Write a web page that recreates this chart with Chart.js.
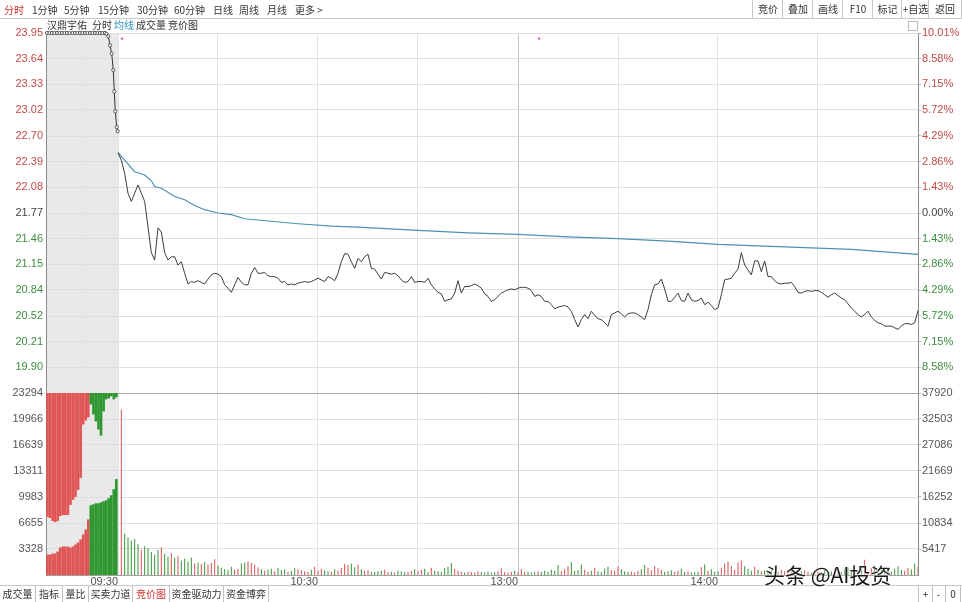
<!DOCTYPE html>
<html>
<head>
<meta charset="utf-8">
<script src="https://cdn.jsdelivr.net/npm/chart.js@4.4.0/dist/chart.umd.min.js"></script>
<style>
  body { margin: 0; background: #fff; }
  #wrap { position: relative; width: 962px; height: 602px; overflow: hidden; font-family: "Noto Sans CJK SC", "Liberation Sans", sans-serif; }
  #chart { position: absolute; left: 0; top: 0; }
  .t { position: absolute; font-size: 10px; line-height: 12px; color: #333; white-space: nowrap; }
  #topbar { position: absolute; left: 0; top: 0; width: 962px; height: 18px; border-bottom: 1px solid #c8c8c8; }
  .btn { position: absolute; top: 0; height: 18px; border-left: 1px solid #c8c8c8; font-size: 10px; line-height: 18px; text-align: center; color: #333; }
  #tabs { position: absolute; left: 0; top: 585px; width: 962px; height: 16px; border-top: 1px solid #c8c8c8; border-bottom: 1px solid #c8c8c8; }
  .tab { position: absolute; top: 0; height: 16px; border-right: 1px solid #c0c0c0; font-size: 10px; line-height: 16px; text-align: center; color: #333; }
  .mark { position: absolute; font-size: 9px; color: #d040c8; }
  #wm { position: absolute; left: 764px; top: 559px; font-size: 21px; color: #1a1a1a; text-shadow: 0 0 2px #fff, 0 0 2px #fff; }
</style>
</head>
<body>
<div id="wrap">
  <canvas id="chart" width="962" height="602"></canvas>

  <div id="topbar">
    <span class="t" style="left:4px;top:4px;color:#d03030">分时</span>
    <span class="t" style="left:32px;top:4px">1分钟</span>
    <span class="t" style="left:64px;top:4px">5分钟</span>
    <span class="t" style="left:98px;top:4px">15分钟</span>
    <span class="t" style="left:137px;top:4px">30分钟</span>
    <span class="t" style="left:174px;top:4px">60分钟</span>
    <span class="t" style="left:213px;top:4px">日线</span>
    <span class="t" style="left:239px;top:4px">周线</span>
    <span class="t" style="left:267px;top:4px">月线</span>
    <span class="t" style="left:295px;top:4px">更多 &gt;</span>
    <div class="btn" style="left:752px;width:30px">竞价</div>
    <div class="btn" style="left:782px;width:30px">叠加</div>
    <div class="btn" style="left:812px;width:30px">画线</div>
    <div class="btn" style="left:842px;width:30px">F10</div>
    <div class="btn" style="left:872px;width:29px">标记</div>
    <div class="btn" style="left:901px;width:27px">+自选</div>
    <div class="btn" style="left:928px;width:32px;border-right:1px solid #c8c8c8">返回</div>
  </div>

  <span class="t" style="left:47px;top:19px">汉鼎宇佑</span>
  <span class="t" style="left:92px;top:19px">分时</span>
  <span class="t" style="left:114px;top:19px;color:#2f8fc0">均线</span>
  <span class="t" style="left:136px;top:19px">成交量</span>
  <span class="t" style="left:168px;top:19px">竞价图</span>
  <div style="position:absolute;left:908px;top:21px;width:8px;height:8px;border:1px solid #bbb"></div>
  <span class="mark" style="left:120px;top:34px">*</span>
  <span class="mark" style="left:537px;top:34px">*</span>

  <div id="tabs">
    <div class="tab" style="left:0;width:35px">成交量</div>
    <div class="tab" style="left:36px;width:26px">指标</div>
    <div class="tab" style="left:63px;width:25px">量比</div>
    <div class="tab" style="left:89px;width:43px">买卖力道</div>
    <div class="tab" style="left:133px;width:36px;color:#d03030">竞价图</div>
    <div class="tab" style="left:170px;width:53px">资金驱动力</div>
    <div class="tab" style="left:224px;width:44px">资金博弈</div>
    <div class="tab" style="left:918px;width:13px;border-left:1px solid #c0c0c0">+</div>
    <div class="tab" style="left:932px;width:13px">-</div>
    <div class="tab" style="left:946px;width:14px">0</div>
  </div>

  <div id="wm">头条 @AI投资</div>
</div>

<script>
// 昨收与坐标轴刻度
const prevClose = 21.77;
const priceMax = 23.95;
const priceMin = 19.59;
const priceTicks = [23.95, 23.64, 23.33, 23.02, 22.70, 22.39, 22.08, 21.77, 21.46, 21.15, 20.84, 20.52, 20.21, 19.90];
const pctTicks = [10.01, 8.58, 7.15, 5.72, 4.29, 2.86, 1.43, 0, -1.43, -2.86, -4.29, -5.72, -7.15, -8.58];
const pctLabels = ['10.01%', '8.58%', '7.15%', '5.72%', '4.29%', '2.86%', '1.43%', '0.00%', '1.43%', '2.86%', '4.29%', '5.72%', '7.15%', '8.58%'];
const volLeftTicks = [23294, 19966, 16639, 13311, 9983, 6655, 3328];
const volRightTicks = [37920, 32503, 27086, 21669, 16252, 10834, 5417];

// x 轴单位: 分钟 (09:30 = 0), 竞价区在负值
const auctionStart = -21.6;
const timeTicks = [-10.8, 0, 30, 60, 90, 120, 150, 180, 210];
const timeLabels = ['', '09:30', '', '10:30', '', '13:00', '', '14:00', ''];

// 集合竞价 价格
const auctionPriceTime = [-21.30, -20.55, -19.80, -19.05, -18.30, -17.55, -16.80, -16.05, -15.30, -14.55, -13.65, -12.90, -12.15, -11.40, -10.65, -9.90, -9.15, -8.40, -7.65, -6.90, -6.15, -5.40, -4.65, -3.90, -3.45, -2.91, -2.40, -1.89, -1.41, -1.11, -0.81, -0.39, -0.09];
const auctionPrice = [23.95, 23.95, 23.95, 23.95, 23.95, 23.95, 23.95, 23.95, 23.95, 23.95, 23.95, 23.95, 23.95, 23.95, 23.95, 23.95, 23.95, 23.95, 23.95, 23.95, 23.95, 23.95, 23.95, 23.95, 23.94, 23.91, 23.80, 23.70, 23.50, 23.24, 23.00, 22.81, 22.76];

// 集合竞价 量 (未匹配量从上往下, 匹配量从下往上)
const auctionBarTime = [-21.15, -20.39, -19.62, -18.86, -18.09, -17.33, -16.56, -15.80, -15.03, -14.27, -13.50, -12.74, -11.97, -11.21, -10.44, -9.68, -8.91, -8.15, -7.38, -6.62, -5.85, -5.09, -4.32, -3.56, -2.79, -2.03, -1.26, -0.50];
const auctionUnmatched = [7465, 7336, 6950, 6821, 6950, 7593, 7722, 7722, 7722, 9009, 9653, 10039, 10940, 12484, 19305, 19820, 20206, 21879, 20592, 19691, 18662, 17889, 20978, 22523, 22651, 22909, 22523, 22780];
const auctionMatched = [2574, 2574, 2703, 2703, 2960, 3475, 3604, 3604, 3604, 3475, 3604, 3861, 4118, 4505, 5148, 5792, 7079, 8880, 9009, 9138, 9138, 9266, 9395, 9524, 9781, 10167, 10940, 12227];
const auctionSide = 'rrrrrrrrrrrrrrrrrgggggggggggg';

// 分时价格 (每分钟)
const price = [
  22.50, 22.41, 22.25, 22.01, 21.91, 22.01, 22.11, 22.01, 21.91, 21.60,
  21.29, 21.20, 21.59, 21.54, 21.29, 21.20, 21.24, 21.24, 21.14, 21.18,
  21.04, 20.91, 20.94, 20.93, 20.95, 20.93, 20.91, 20.97, 21.02, 21.04,
  21.03, 21.00, 20.90, 20.86, 20.81, 20.90, 20.99, 20.93, 20.90, 20.90,
  21.04, 21.11, 21.04, 21.04, 21.05, 21.01, 21.00, 21.00, 20.98, 20.93,
  20.94, 20.90, 20.91, 20.90, 20.92, 20.93, 20.94, 20.93, 20.94, 20.96,
  20.98, 20.96, 20.94, 21.00, 20.98, 20.95, 21.04, 21.18, 21.28, 21.27,
  21.18, 21.10, 21.22, 21.18, 21.24, 21.27, 21.10, 21.09, 21.03, 20.97,
  21.05, 21.04, 21.03, 21.04, 21.01, 20.96, 20.93, 20.94, 21.00, 20.93,
  20.94, 20.94, 20.93, 20.98, 20.90, 20.85, 20.81, 20.79, 20.70, 20.72,
  20.73, 20.80, 20.95, 20.80, 20.88, 20.88, 20.89, 20.91, 20.89, 20.86,
  20.79, 20.76, 20.70, 20.72, 20.76, 20.80, 20.82, 20.84, 20.85, 20.84,
  20.86, 20.87, 20.87, 20.86, 20.83, 20.76, 20.78, 20.76, 20.70, 20.70,
  20.66, 20.61, 20.63, 20.64, 20.65, 20.63, 20.58, 20.48, 20.39, 20.48,
  20.54, 20.49, 20.58, 20.53, 20.49, 20.48, 20.44, 20.40, 20.54, 20.56,
  20.58, 20.55, 20.51, 20.55, 20.56, 20.56, 20.54, 20.51, 20.48, 20.60,
  20.78, 20.90, 20.91, 20.97, 20.85, 20.70, 20.70, 20.75, 20.80, 20.71,
  20.70, 20.80, 20.72, 20.70, 20.71, 20.74, 20.66, 20.69, 20.65, 20.60,
  20.62, 20.78, 20.96, 20.97, 20.98, 21.04, 21.09, 21.29, 21.14, 21.08,
  21.02, 21.19, 21.19, 21.06, 21.19, 21.00, 21.00, 20.95, 20.92, 20.91,
  20.92, 20.92, 20.93, 20.88, 20.81, 20.80, 20.82, 20.83, 20.82, 20.83,
  20.83, 20.81, 20.78, 20.75, 20.78, 20.80, 20.77, 20.74, 20.72, 20.67,
  20.62, 20.58, 20.54, 20.51, 20.54, 20.58, 20.51, 20.47, 20.44, 20.43,
  20.40, 20.40, 20.40, 20.38, 20.36, 20.40, 20.43, 20.43, 20.42, 20.44,
  20.59
];

// 均价线
const avgTime = [0, 2, 5, 8, 10, 11, 13, 17, 20, 23, 26, 30, 34, 38, 46, 54, 64, 72, 90, 105, 120, 135, 150, 165, 180, 200, 220, 240];
const avgPrice = [22.50, 22.41, 22.27, 22.23, 22.16, 22.09, 22.07, 21.97, 21.93, 21.86, 21.81, 21.77, 21.75, 21.70, 21.67, 21.64, 21.61, 21.60, 21.56, 21.53, 21.51, 21.48, 21.46, 21.43, 21.39, 21.36, 21.33, 21.27];

// 分时成交量 (每分钟)
const volume = [
  34500, 8600, 7800, 7200, 7500, 6400, 5200, 6000, 5600, 4800,
  4200, 5200, 5800, 4400, 3800, 4600, 3600, 3900, 3000, 3400,
  2800, 3600, 2400, 2600, 2300, 2700, 2200, 2500, 3300, 2000,
  1500, 1200, 1000, 1700, 1100, 1300, 2400, 2600, 2800, 2500,
  2200, 1600, 1200, 900, 1100, 1300, 800, 1500, 1000, 1200,
  700, 900, 1400, 1200, 1000, 800, 600, 1100, 1700, 900,
  1300, 1000, 800, 700, 1200, 900, 1500, 2300, 2100, 2400,
  1600, 2200, 1200, 900, 1000, 700, 600, 800, 900, 1100,
  600, 700, 500, 900, 800, 600, 700, 900, 1200, 800,
  1100, 1300, 600, 1500, 900, 800, 700, 1400, 1700, 2500,
  1300, 900, 600, 500, 700, 600, 500, 800, 600, 500,
  700, 500, 600, 800, 1400, 600, 500, 700, 900, 600,
  1200, 700, 600, 500, 700, 800, 600, 900, 700, 1100,
  900, 2100, 800, 1200, 1800, 2700, 900, 1000, 2200, 1100,
  700, 900, 1500, 800, 600, 1300, 1700, 1000, 900, 1800,
  1200, 800, 600, 700, 500, 900, 1200, 2100, 1500, 1000,
  1900, 1400, 1100, 700, 800, 1000, 600, 900, 1300, 700,
  800, 500, 600, 700, 1600, 2200, 900, 1200, 700, 800,
  1500, 2400, 2800, 1900, 1100, 2600, 3000, 1800, 1300, 900,
  1700, 1100, 800, 1000, 700, 900, 600, 700, 1100, 800,
  900, 1200, 700, 600, 800, 1000, 700, 500, 900, 800,
  600, 1100, 800, 700, 1300, 900, 600, 1200, 1500, 1000,
  800, 900, 1600, 3200, 700, 1400, 2000, 900, 1200, 1500,
  1000, 700, 1300, 1800, 1100, 900, 1500, 1200, 2400, 1700
];
const volSide =
  'rgggggrggg' + 'ggrggrgrgg' + 'ggrgrgrrrg' + 'ggggrrggrr' + 'rrgrggrggg' + 'rggrrrrgrr' +
  'rggrgrrrrg' + 'grgrrggggr' + 'rgrgggrrgr' + 'rggrgggggg' + 'rrrgrrrrgg' + 'gggrrrrrgr' +
  'rrgggrgggg' + 'ggrrrggggr' + 'rgrggggrrr' + 'gggrrrggrr' + 'rrrgggrrgg' + 'rgggrgrggg' +
  'rrrrrrrggg' + 'rgrgggggrr' + 'rrgggrrgrr' + 'ggggrrgggg' + 'gggrrrgggg' + 'gggggrrggr';

const RED = '#c44a48', GREEN = '#3d8c3d', GREY = '#444';
const font = { family: '"Liberation Sans", Arial, sans-serif', size: 11 };

// 竞价区灰色背景
const auctionShade = {
  id: 'auctionShade',
  beforeDraw(chart) {
    const { ctx, chartArea, scales } = chart;
    const x1 = scales.x.getPixelForValue(0);
    ctx.save();
    ctx.fillStyle = '#e9e9e9';
    ctx.fillRect(chartArea.left, chartArea.top, x1 - chartArea.left, chartArea.bottom - chartArea.top);
    ctx.restore();
  }
};

const ctx = document.getElementById('chart');
new Chart(ctx, {
  type: 'bar',
  data: {
    datasets: [
      {
        type: 'line',
        data: auctionPriceTime.map((t, i) => ({ x: t, y: auctionPrice[i] })),
        xAxisID: 'x', yAxisID: 'yPrice',
        borderColor: '#333', borderWidth: 1,
        pointRadius: 1.6, pointBorderWidth: 0.8, pointBorderColor: '#333', pointBackgroundColor: '#fff',
        clip: false
      },
      {
        type: 'line',
        data: price.map((p, i) => ({ x: i, y: p })),
        xAxisID: 'x', yAxisID: 'yPrice',
        borderColor: '#3c3c3c', borderWidth: 1, pointRadius: 0, clip: false
      },
      {
        type: 'line',
        data: avgTime.map((t, i) => ({ x: t, y: avgPrice[i] })),
        xAxisID: 'x', yAxisID: 'yPrice',
        borderColor: '#4a93b4', borderWidth: 1.2, pointRadius: 0, clip: false
      },
      {
        data: auctionBarTime.map((t, i) => ({ x: t, y: [auctionUnmatched[i], volLeftTicks[0]] })),
        xAxisID: 'x', yAxisID: 'yVol',
        backgroundColor: auctionBarTime.map((t, i) => auctionSide[i] === 'r' ? '#e05656' : '#2f972f'),
        barThickness: 2, grouped: false
      },
      {
        data: auctionBarTime.map((t, i) => ({ x: t, y: [0, auctionMatched[i]] })),
        xAxisID: 'x', yAxisID: 'yVol',
        backgroundColor: auctionBarTime.map((t, i) => auctionSide[i] === 'r' ? '#e05656' : '#2f972f'),
        barThickness: 2, grouped: false
      },
      {
        data: volume.map((v, i) => ({ x: i + 1, y: v })),
        xAxisID: 'x', yAxisID: 'yVolR',
        backgroundColor: volume.map((v, i) => volSide[i] === 'r' ? '#d85050' : '#3a923a'),
        barThickness: 1, inflateAmount: 0, grouped: false
      }
    ]
  },
  options: {
    responsive: false,
    animation: false,
    layout: { padding: { top: 33, bottom: 12, left: 0, right: 0 } },
    plugins: { legend: { display: false }, tooltip: { enabled: false } },
    scales: {
      x: {
        type: 'linear', min: auctionStart, max: 240, offset: false,
        afterBuildTicks: s => { s.ticks = timeTicks.map(v => ({ value: v })); },
        afterFit: s => { s.height = 15; },
        grid: { offset: false, drawTicks: false, color: c => (c.tick && c.tick.value === 120) ? '#c6c6c6' : '#e3e3e3' },
        border: { color: '#a0a0a0' },
        ticks: { autoSkip: false, maxRotation: 0, align: 'end', padding: 0, color: '#555', font,
                 callback: (v, i) => timeLabels[i] }
      },
      yVol: {
        type: 'linear', position: 'left', stack: 'left', stackWeight: 182,
        min: 0, max: volLeftTicks[0],
        afterBuildTicks: s => { s.ticks = volLeftTicks.map(v => ({ value: v })); },
        afterFit: s => { s.width = 46; },
        grid: { drawTicks: false, color: c => (c.tick && c.tick.value === volLeftTicks[0]) ? '#a8a8a8' : '#dedede' },
        border: { color: '#8a8a8a' },
        ticks: { autoSkip: false, padding: 3, color: '#555', font, callback: (v, i) => String(volLeftTicks[i]) }
      },
      yPrice: {
        type: 'linear', position: 'left', stack: 'left', stackWeight: 360,
        min: priceMin, max: priceMax,
        afterBuildTicks: s => { s.ticks = priceTicks.map(v => ({ value: v })); },
        afterFit: s => { s.width = 46; },
        grid: { drawTicks: false, color: '#dedede' },
        border: { color: '#8a8a8a' },
        ticks: { autoSkip: false, padding: 3, font, callback: (v, i) => priceTicks[i].toFixed(2),
                 color: c => c.tick.value > prevClose ? RED : (c.tick.value < prevClose ? GREEN : GREY) }
      },
      yPct: {
        type: 'linear', position: 'right', stack: 'right', stackWeight: 360,
        min: -pctTicks[0], max: pctTicks[0],
        afterBuildTicks: s => { s.ticks = pctTicks.map(v => ({ value: v })); },
        afterFit: s => { s.width = 44; },
        grid: { drawOnChartArea: false, drawTicks: true, tickLength: 3, color: '#b8b8b8' },
        border: { color: '#8a8a8a' },
        ticks: { autoSkip: false, padding: 1, font, callback: (v, i) => pctLabels[i],
                 color: c => c.tick.value > 0 ? RED : (c.tick.value < 0 ? GREEN : GREY) }
      },
      yVolR: {
        type: 'linear', position: 'right', stack: 'right', stackWeight: 182,
        min: 0, max: volRightTicks[0],
        afterBuildTicks: s => { s.ticks = volRightTicks.map(v => ({ value: v })); },
        afterFit: s => { s.width = 44; },
        grid: { drawOnChartArea: false, drawTicks: true, tickLength: 3, color: '#b8b8b8' },
        border: { color: '#8a8a8a' },
        ticks: { autoSkip: false, padding: 1, color: '#555', font, callback: (v, i) => String(volRightTicks[i]) }
      }
    }
  },
  plugins: [auctionShade]
});
</script>
</body>
</html>
